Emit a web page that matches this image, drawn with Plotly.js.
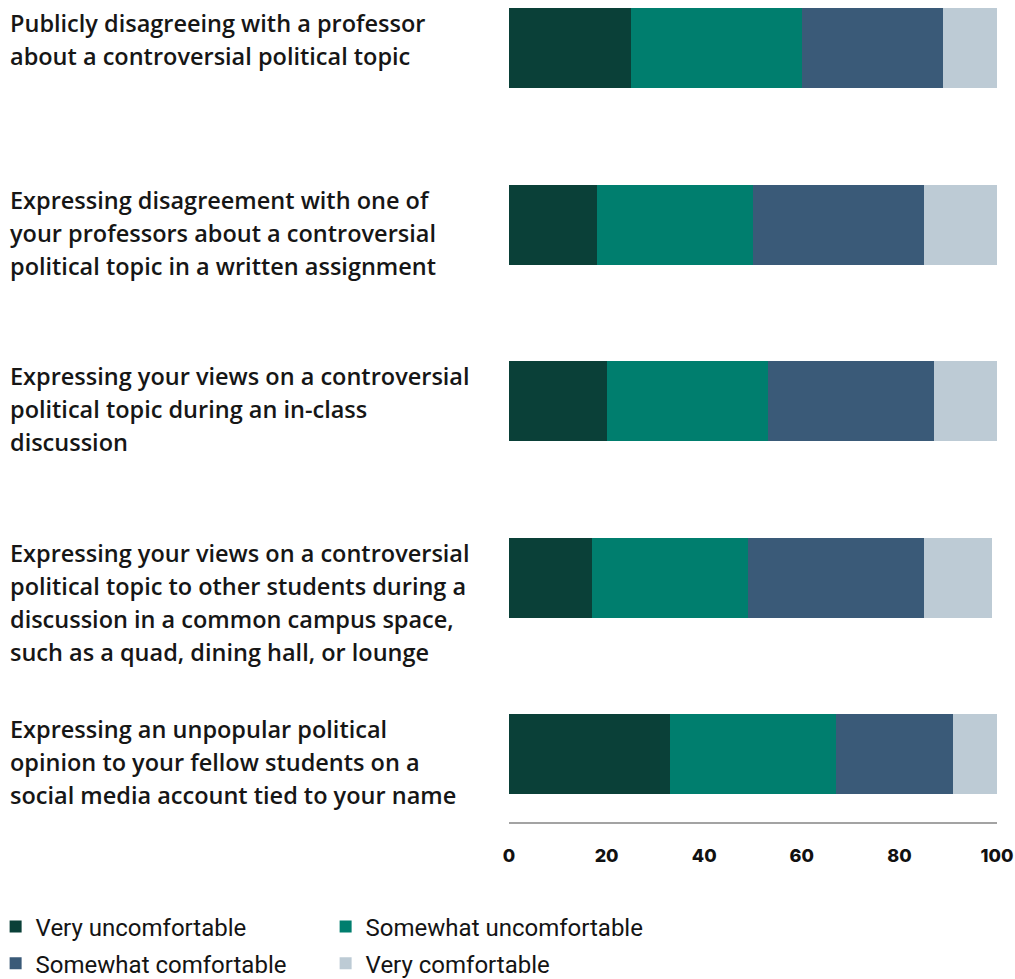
<!DOCTYPE html>
<html>
<head>
<meta charset="utf-8">
<script src="https://cdn.plot.ly/plotly-3.0.1.min.js"></script>
<style>html,body{margin:0;padding:0;background:#fff;}#chart{width:1015px;height:979px;}</style>
</head>
<body>
<div id="chart"></div>
<script>
// ---- data ----
var labelLines = [
  ["Publicly disagreeing with a professor", "about a controversial political topic"],
  ["Expressing disagreement with one of", "your professors about a controversial", "political topic in a written assignment"],
  ["Expressing your views on a controversial", "political topic during an in-class", "discussion"],
  ["Expressing your views on a controversial", "political topic to other students during a", "discussion in a common campus space,", "such as a quad, dining hall, or lounge"],
  ["Expressing an unpopular political", "opinion to your fellow students on a", "social media account tied to your name"]
];
var categories = labelLines.map(function (l) { return l.join(" "); });

var seriesNames = ["Very uncomfortable", "Somewhat uncomfortable", "Somewhat comfortable", "Very comfortable"];
var veryUncomfortable     = [25, 18, 20, 17, 33];
var somewhatUncomfortable = [35, 32, 33, 32, 34];
var somewhatComfortable   = [29, 35, 34, 36, 24];
var veryComfortable       = [11, 15, 13, 14, 9];
var tickValues = [0, 20, 40, 60, 80, 100];

// ---- styles ----
var colors = ["#0a4038", "#007e6e", "#3a5a78", "#bdcbd5"];
var seriesValues = [veryUncomfortable, somewhatUncomfortable, somewhatComfortable, veryComfortable];
var legendIds = ["legend", "legend", "legend2", "legend2"];

var traces = seriesValues.map(function (vals, i) {
  return {
    type: "bar",
    orientation: "h",
    name: seriesNames[i],
    x: vals,
    y: categories,
    width: 0.453,
    marker: { color: colors[i], line: { width: 0 } },
    legend: legendIds[i],
    hoverinfo: "x+name"
  };
});

var annotations = [];
labelLines.forEach(function (lines, i) {
  lines.forEach(function (line, j) {
    annotations.push({
      xref: "paper", yref: "y",
      x: -1.027, y: categories[i],
      xanchor: "left", yanchor: "middle",
      yshift: 25 - 33 * j,
      showarrow: false,
      text: line,
      font: { family: "Open Sans", size: 23.5, weight: 600, color: "#161616" }
    });
  });
});

var legendFont = { family: "Roboto", size: 24, color: "#141414" };
function legendCfg(yPos) {
  return {
    orientation: "h",
    x: -1.052, xanchor: "left",
    y: yPos, yanchor: "middle",
    entrywidth: 285, entrywidthmode: "pixels",
    font: legendFont,
    itemclick: false, itemdoubleclick: false,
    traceorder: "normal",
    tracegroupgap: 0,
    bgcolor: "rgba(0,0,0,0)"
  };
}

var layout = {
  width: 1015, height: 979,
  margin: { l: 509, r: 18, t: 8, b: 157, autoexpand: false },
  paper_bgcolor: "#ffffff", plot_bgcolor: "#ffffff",
  barmode: "stack",
  bargap: 0,
  showlegend: true,
  xaxis: {
    range: [0, 100],
    tickvals: tickValues,
    ticktext: tickValues.map(String),
    ticks: "",
    showgrid: false,
    zeroline: false,
    showline: true,
    linecolor: "#a3a3a3",
    linewidth: 2,
    ticklabelstandoff: 16,
    tickfont: { family: "Inter", size: 18, weight: 800, color: "#111111" },
    fixedrange: true
  },
  yaxis: {
    type: "category",
    categoryorder: "array",
    categoryarray: categories,
    range: [4.385, -0.227],
    showticklabels: false,
    ticks: "",
    showgrid: false,
    zeroline: false,
    showline: false,
    fixedrange: true
  },
  legend: legendCfg(-0.129),
  legend2: legendCfg(-0.174),
  annotations: annotations
};

Plotly.newPlot("chart", traces, layout, { displayModeBar: false });
</script>
</body>
</html>
